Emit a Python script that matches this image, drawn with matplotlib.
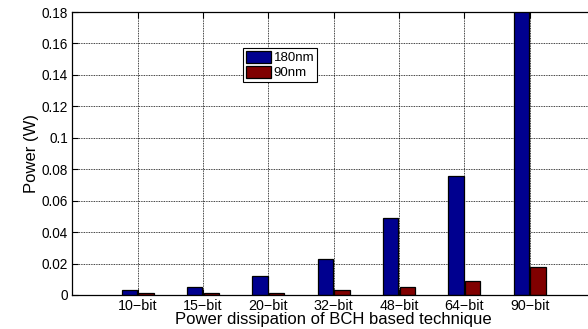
import matplotlib
matplotlib.use("Agg")
import matplotlib.pyplot as plt
import numpy as np

plt.rcParams['font.family'] = ['Liberation Sans', 'DejaVu Sans']

categories = ['10\u2212bit', '15\u2212bit', '20\u2212bit', '32\u2212bit', '48\u2212bit', '64\u2212bit', '90\u2212bit']
power_180nm = [0.003, 0.005, 0.012, 0.023, 0.049, 0.076, 0.185]
power_90nm = [0.001, 0.001, 0.001, 0.003, 0.005, 0.009, 0.0175]
yticks = [0, 0.02, 0.04, 0.06, 0.08, 0.1, 0.12, 0.14, 0.16, 0.18]
ytick_labels = ['0', '0.02', '0.04', '0.06', '0.08', '0.1', '0.12', '0.14', '0.16', '0.18']

W, H = 588, 329
fig = plt.figure(figsize=(W / 100, H / 100), dpi=100)
left, right, bottom, top = 72.4, 595.0, 295.0, 12.0
ax = fig.add_axes([left / W, 1 - bottom / H, (right - left) / W, (bottom - top) / H])

x = np.arange(1, len(categories) + 1)
bw = 0.235
ax.bar(x - bw / 2 - 0.01, power_180nm, bw, color='#00008f', edgecolor='black', linewidth=0.9,
       label='180nm', zorder=3)
ax.bar(x + bw / 2 + 0.01, power_90nm, bw, color='#800000', edgecolor='black', linewidth=0.9,
       label='90nm', zorder=3)

ax.set_xlim(0, 8)
ax.set_ylim(0, 0.18)
ax.set_xticks(x)
ax.set_xticklabels(categories, fontsize=10.3)
ax.set_yticks(yticks)
ax.set_yticklabels(ytick_labels, fontsize=9.8)
ax.tick_params(direction='in', top=True, right=True, length=4, width=0.8, pad=3)
ax.grid(True, linestyle=(0, (1, 1)), color='black', linewidth=0.6, zorder=0)
ax.set_axisbelow(True)
for s in ax.spines.values():
    s.set_linewidth(0.9)
    s.set_zorder(4)

ax.set_ylabel('Power (W)', fontsize=12, labelpad=2)
ax.set_xlabel('Power dissipation of BCH based technique', fontsize=12, labelpad=-1)

leg = ax.legend(loc='upper left', bbox_to_anchor=((243 - left) / (right - left), 1 - (48 - top) / (bottom - top)),
                fontsize=9.5, frameon=True, fancybox=False, edgecolor='black',
                handlelength=1.9, handleheight=1.0, handletextpad=0.2, borderpad=0.22,
                labelspacing=0.12, borderaxespad=0)
leg.get_frame().set_linewidth(0.8)
leg.get_frame().set_alpha(1)

fig.savefig('out.png', dpi=100)
